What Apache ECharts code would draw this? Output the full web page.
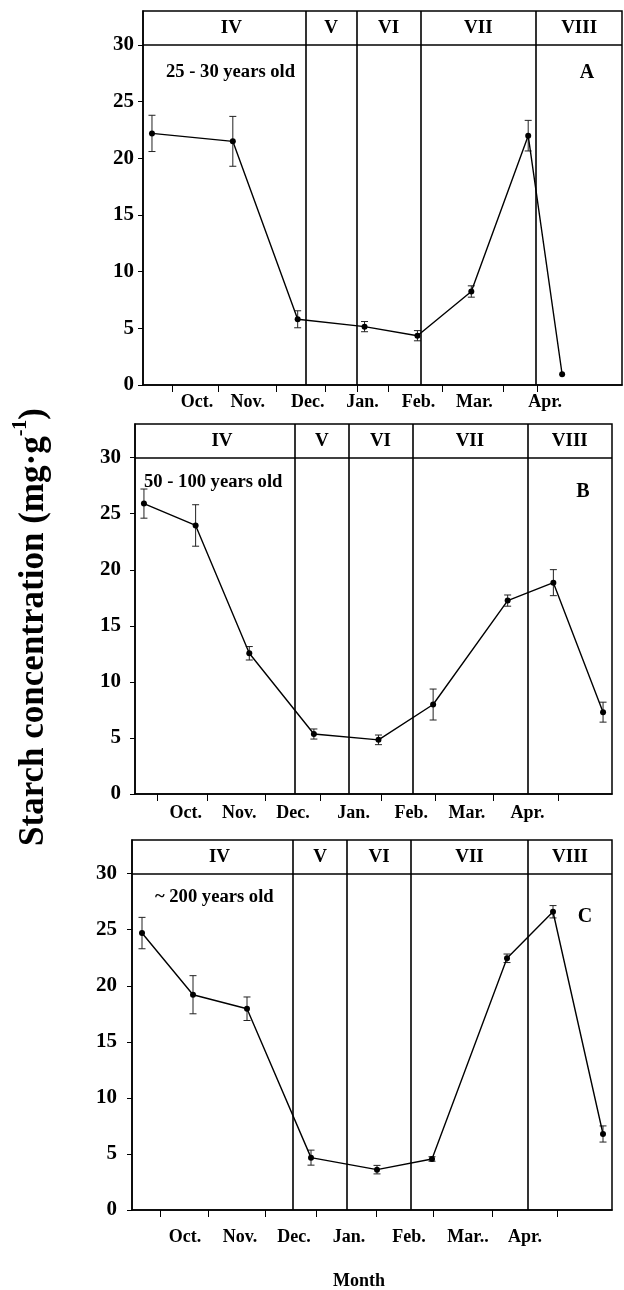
<!DOCTYPE html>
<html><head><meta charset="utf-8">
<script src="https://cdn.jsdelivr.net/npm/echarts@6/dist/echarts.min.js"></script>
<style>html,body{margin:0;padding:0;background:#fff}#c{width:624px;height:1290px}</style>
</head><body><div id="c"></div>
<script>
// ---------- data ----------
const monthNames  = ['Oct.', 'Nov.', 'Dec.', 'Jan.', 'Feb.', 'Mar.', 'Apr.'];
const monthNamesC = ['Oct.', 'Nov.', 'Dec.', 'Jan.', 'Feb.', 'Mar..', 'Apr.'];
const stageNames  = ['IV', 'V', 'VI', 'VII', 'VIII'];
const yTicks      = [0, 5, 10, 15, 20, 25, 30];

// Panel A: 25 - 30 years old
const xA   = [9, 90, 155, 222, 275, 329, 386, 420];
const valA = [22.2, 21.5, 5.8, 5.15, 4.35, 8.25, 22.0, 0.95];
const errA = [1.6, 2.2, 0.75, 0.45, 0.45, 0.5, 1.35, 0];
const stageBoundsA = [163, 214, 278, 394];
const tickPosA  = [29, 75, 134, 183, 215, 246, 300, 361, 395];
const monthPosA = [54, 105, 165, 220, 276, 332, 403];

// Panel B: 50 - 100 years old
const xB   = [9, 61, 115, 180, 245, 300, 375, 421, 471];
const valB = [25.9, 23.95, 12.55, 5.35, 4.83, 7.98, 17.25, 18.85, 7.3];
const errB = [1.3, 1.85, 0.6, 0.45, 0.43, 1.38, 0.5, 1.16, 0.89];
const stageBoundsB = [161, 215, 279, 395];
const tickPosB  = [22, 73, 131, 186, 248, 302, 361, 426];
const monthPosB = [51, 105, 159, 220, 278, 334, 395];

// Panel C: ~ 200 years old
const xC   = [10, 61, 115, 179, 245, 300, 375, 421, 471];
const valC = [24.7, 19.2, 17.95, 4.67, 3.6, 4.55, 22.45, 26.6, 6.78];
const errC = [1.4, 1.7, 1.05, 0.67, 0.38, 0.2, 0.38, 0.55, 0.72];
const stageBoundsC = [161, 215, 279, 396];
const tickPosC  = [28, 76, 133, 184, 244, 301, 360, 425];
const monthPosC = [53, 108, 162, 217, 277, 336, 393];

const X_MAX = 480, Y_MAX = 33, STAGE_Y = 31.5;

// ---------- layout ----------
const FONT = '"Liberation Serif", "Times New Roman", serif';
const panels = [
  {x: xA, v: valA, e: errA, sb: stageBoundsA, tp: tickPosA, mp: monthPosA, mn: monthNames,
   left: 143, top: 11, width: 479, height: 374, yMargin: 9, xMargin: 8},
  {x: xB, v: valB, e: errB, sb: stageBoundsB, tp: tickPosB, mp: monthPosB, mn: monthNames,
   left: 135, top: 424, width: 477, height: 370, yMargin: 14, xMargin: 10},
  {x: xC, v: valC, e: errC, sb: stageBoundsC, tp: tickPosC, mp: monthPosC, mn: monthNamesC,
   left: 132, top: 840, width: 480, height: 370, yMargin: 15, xMargin: 18}
];

const grid = [], xAxis = [], yAxis = [], series = [];
panels.forEach((p, i) => {
  grid.push({left: p.left, top: p.top, width: p.width, height: p.height,
    show: true, borderColor: '#000', borderWidth: 1.5, backgroundColor: 'transparent'});
  xAxis.push({type: 'value', gridIndex: i, min: 0, max: X_MAX,
    axisLine: {show: true, onZero: false, lineStyle: {color: '#000', width: 1.5}},
    axisTick: {show: true, customValues: p.tp, length: 7, lineStyle: {color: '#000', width: 1}},
    axisLabel: {show: true, customValues: p.mp, margin: p.xMargin,
      formatter: v => { const k = p.mp.indexOf(v); return k >= 0 ? p.mn[k] : ''; },
      color: '#000', fontFamily: FONT, fontWeight: 'bold', fontSize: 18},
    splitLine: {show: false}});
  yAxis.push({type: 'value', gridIndex: i, min: 0, max: Y_MAX,
    axisLine: {show: true, lineStyle: {color: '#000', width: 1.5}},
    axisTick: {show: true, customValues: yTicks, length: 5, lineStyle: {color: '#000', width: 1}},
    axisLabel: {show: true, customValues: yTicks, margin: p.yMargin,
      color: '#000', fontFamily: FONT, fontWeight: 'bold', fontSize: 21},
    splitLine: {show: false}});

  // error bars
  series.push({type: 'custom', xAxisIndex: i, yAxisIndex: i, silent: true, z: 3,
    data: p.x.map((xx, k) => [xx, p.v[k], p.e[k]]),
    encode: {x: 0, y: 1},
    renderItem: (params, api) => {
      const x = api.value(0), v = api.value(1), e = api.value(2);
      if (!e) return null;
      const t = api.coord([x, v + e]), b = api.coord([x, v - e]);
      const w = 3.5, st = {stroke: '#222', lineWidth: 1};
      return {type: 'group', children: [
        {type: 'line', shape: {x1: t[0], y1: t[1], x2: b[0], y2: b[1]}, style: st},
        {type: 'line', shape: {x1: t[0] - w, y1: t[1], x2: t[0] + w, y2: t[1]}, style: st},
        {type: 'line', shape: {x1: b[0] - w, y1: b[1], x2: b[0] + w, y2: b[1]}, style: st}
      ]};
    }});

  // main line
  series.push({type: 'line', xAxisIndex: i, yAxisIndex: i, silent: true, z: 4,
    data: p.x.map((xx, k) => [xx, p.v[k]]),
    symbol: 'circle', symbolSize: 6, showAllSymbol: true,
    itemStyle: {color: '#000'}, lineStyle: {color: '#000', width: 1.4},
    markLine: {silent: true, symbol: 'none', label: {show: false}, animation: false,
      lineStyle: {color: '#000', width: 1.6, type: 'solid'},
      data: p.sb.map(d => ({xAxis: d})).concat([{yAxis: 30}])}});

  // stage labels in header band
  const bounds = [0].concat(p.sb, [X_MAX]);
  series.push({type: 'scatter', xAxisIndex: i, yAxisIndex: i, silent: true, z: 5,
    symbolSize: 1, itemStyle: {color: 'rgba(0,0,0,0)', opacity: 1},
    data: stageNames.map((n, k) => ({value: [(bounds[k] + bounds[k + 1]) / 2 + (k === 0 ? 7 : 0), STAGE_Y], name: n})),
    label: {show: true, position: 'inside', formatter: '{b}', color: '#000', opacity: 1,
      textBorderWidth: 0, fontFamily: FONT, fontWeight: 'bold', fontSize: 19}});
});

const boldText = (text, x, y, size, align) => ({type: 'text', x, y, silent: true,
  style: {text, font: 'bold ' + size + 'px ' + FONT, fill: '#000', align: align || 'left', verticalAlign: 'middle'}});

const graphic = [
  boldText('25 - 30 years old', 166, 72, 18.6),
  boldText('A', 587, 73, 20, 'center'),
  boldText('50 - 100 years old', 144, 482, 18.6),
  boldText('B', 583, 492, 20, 'center'),
  boldText('~ 200 years old', 155, 897, 18.6),
  boldText('C', 585, 917, 20, 'center'),
  boldText('Month', 359, 1281, 18, 'center'),
  {type: 'text', x: 31, y: 627, rotation: Math.PI / 2, silent: true,
   style: {text: '{m|Starch concentration (mg·g}{s|-1}{m|)}', align: 'center', verticalAlign: 'middle', fill: '#000',
     rich: {m: {fontFamily: FONT, fontWeight: 'bold', fontSize: 35, lineHeight: 40, verticalAlign: 'bottom'},
            s: {fontFamily: FONT, fontWeight: 'bold', fontSize: 20, lineHeight: 40, verticalAlign: 'top'}}}}
];

const chart = echarts.init(document.getElementById('c'), null, {renderer: 'canvas'});
chart.setOption({animation: false, backgroundColor: '#fff', grid, xAxis, yAxis, series, graphic});
</script>
</body></html>
